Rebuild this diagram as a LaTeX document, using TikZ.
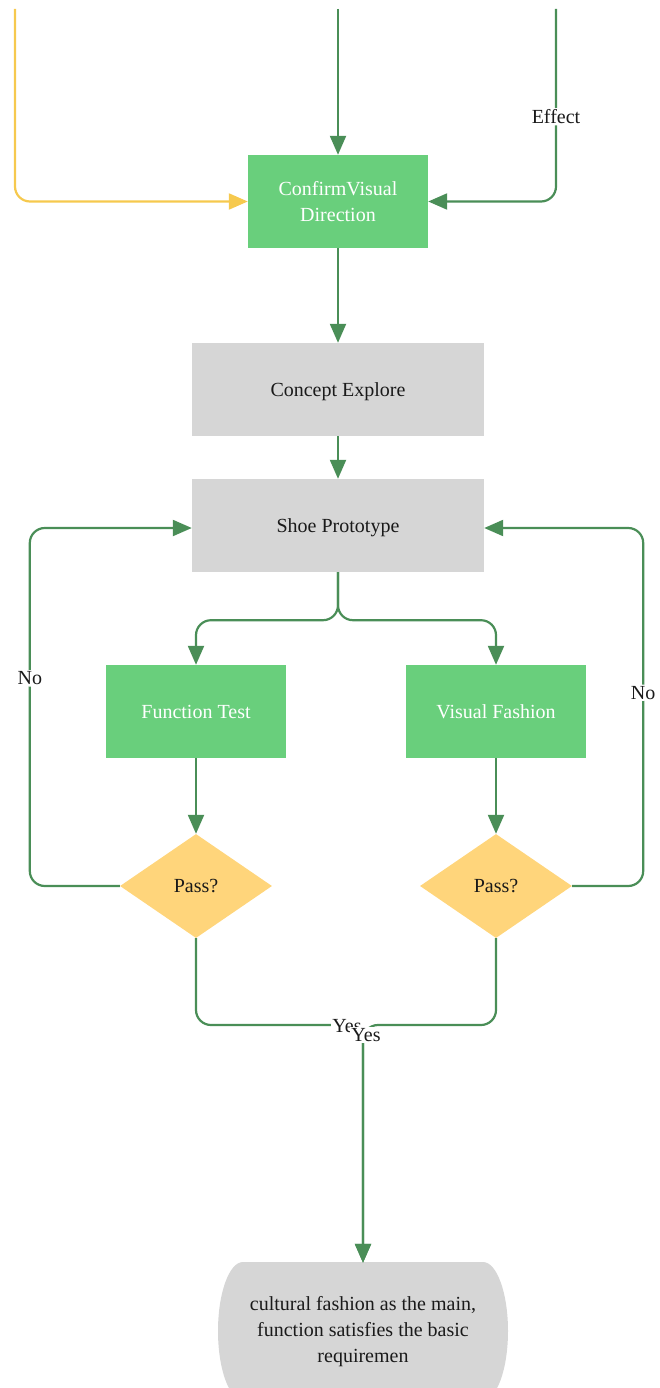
\documentclass[tikz,border=0pt]{standalone}
\usepackage{fontspec}
\setmainfont{Liberation Serif}
\usetikzlibrary{arrows.meta,shapes.geometric}

\definecolor{flowgreen}{HTML}{4A8E57}
\definecolor{flowyellow}{HTML}{F6C94E}
\definecolor{boxgreen}{HTML}{69CF7C}
\definecolor{boxgray}{HTML}{D6D6D6}
\definecolor{decision}{HTML}{FFD57B}
\definecolor{ink}{HTML}{1A1A1A}

\tikzset{
  txt/.style={font=\fontsize{20}{26}\selectfont, align=center, inner sep=0pt},
  greenbox/.style={txt, rectangle, fill=boxgreen, text=white, text depth=0pt,
    minimum width=180pt, minimum height=93pt},
  graybox/.style={txt, rectangle, fill=boxgray, text=ink, text depth=0pt,
    minimum width=292pt, minimum height=93pt},
  decide/.style={txt, diamond, fill=decision, text=ink, minimum width=152pt, minimum height=104pt},
  flow/.style={draw=flowgreen, line width=2.2pt, rounded corners=15pt,
    -{Triangle[length=19pt,width=16pt]}},
  flowy/.style={draw=flowyellow, line width=2.2pt, rounded corners=15pt,
    -{Triangle[length=19pt,width=16pt]}},
  lbl/.style={txt, fill=white, text=ink, inner sep=1.5pt},
}

\begin{document}
\begin{tikzpicture}[x=1pt, y=-1pt]
  \useasboundingbox (0,0) rectangle (659,1388);
  \clip (0,0) rectangle (659,1388);

  % process steps
  \node[greenbox] (confirm) at (338,201.5) {ConfirmVisual\\Direction};
  \node[graybox]  (concept) at (338,389.5) {Concept Explore};
  \node[graybox]  (shoe)    at (338,525.5) {Shoe Prototype};
  \node[greenbox] (ftest)   at (196,711.5) {Function Test};
  \node[greenbox] (vfash)   at (496,711.5) {Visual Fashion};
  \node[decide]   (d1)      at (196,886) {Pass?};
  \node[decide]   (d2)      at (496,886) {Pass?};

  % final outcome: box with curved sides
  \fill[boxgray] (243,1262) -- (483,1262)
    arc[start angle=-90, end angle=90, x radius=25, y radius=69]
    -- (243,1400)
    arc[start angle=90, end angle=270, x radius=25, y radius=69] -- cycle;
  \node[txt, text=ink, minimum width=290pt, minimum height=138pt] (goal) at (363,1332)
    {cultural fashion as the main,\\function satisfies the basic\\requiremen};

  % incoming flows from above
  \coordinate (ytop) at (15,9);
  \coordinate (gtop) at (338,9);
  \coordinate (etop) at (556,9);
  \draw[flowy] (ytop) |- (confirm.west);
  \draw[flow] (gtop) -- (confirm.north);
  \draw[flow] (etop) |- node[lbl, pos=0.28] {Effect} (confirm.east);

  % main sequence
  \draw[flow] (confirm) -- (concept);
  \draw[flow] (concept) -- (shoe);
  \draw[flow] (shoe.south) -- ++(0,48) -| (ftest.north);
  \draw[flow] (shoe.south) -- ++(0,48) -| (vfash.north);
  \draw[flow] (ftest) -- (d1);
  \draw[flow] (vfash) -- (d2);

  % rejection loops
  \draw[flow] (d1.west) -- ++(-90,0) |- node[lbl, pos=0.29] {No} ([yshift=-2.5pt]shoe.west);
  \draw[flow] (d2.east) -- ++(71,0) |- node[lbl, pos=0.27] {No} ([yshift=-2.5pt]shoe.east);

  % acceptance paths
  \coordinate (join) at (363,1025);
  \draw[flow] (d1.south) |- (join) -- (goal.north);
  \draw[flow] (d2.south) |- (join) -- (goal.north);
  \node[lbl] (yes1) at (347,1026) {Yes};
  \node[lbl] (yes2) at (366,1035) {Yes};
\end{tikzpicture}
\end{document}
